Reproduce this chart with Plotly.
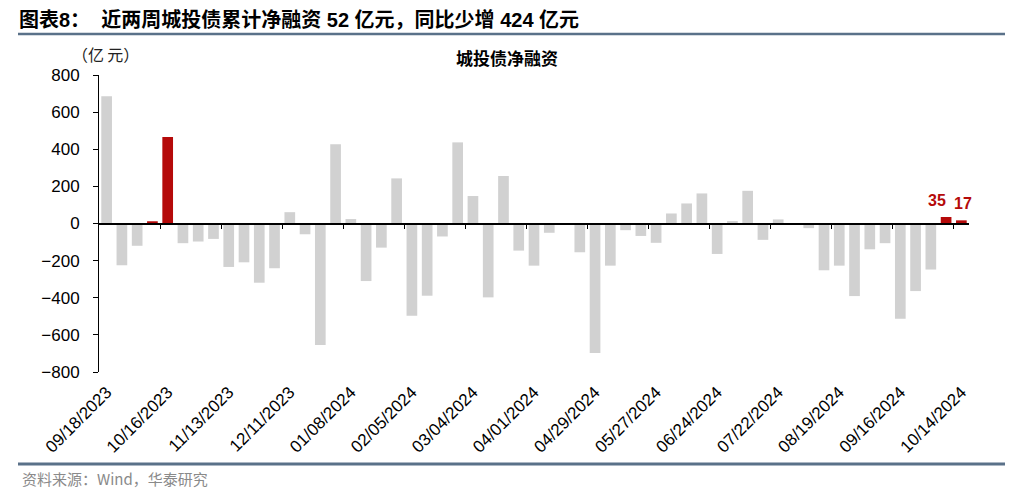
import pandas as pd
import plotly.graph_objects as go

# ---------------- data ----------------
weeks = [d.strftime("%m/%d/%Y") for d in pd.date_range("2023-09-18", "2024-10-14", freq="7D")]

net_financing = [
    685, -225, -120, 12, 466, -106, -97, -83, -234, -209,
    -319, -241, 61, -58, -655, 427, 24, -310, -130, 243,
    -497, -389, -70, 437, 148, -398, 256, -146, -227, -50,
    0, -155, -698, -227, -36, -67, -104, 54, 108, 162,
    -164, 13, 176, -88, 22, 0, -25, -252, -227, -391,
    -139, -106, -513, -364, -248, 35, 17,
]

highlight_weeks = ["10/09/2023", "10/16/2023", "10/07/2024", "10/14/2024"]
labeled_weeks = ["10/07/2024", "10/14/2024"]

tick_labels = [
    "09/18/2023", "10/16/2023", "11/13/2023", "12/11/2023", "01/08/2024",
    "02/05/2024", "03/04/2024", "04/01/2024", "04/29/2024", "05/27/2024",
    "06/24/2024", "07/22/2024", "08/19/2024", "09/16/2024", "10/14/2024",
]

title_text = "图表8：\u00a0\u00a0近两周城投债累计净融资 52 亿元，同比少增 424 亿元"
chart_title = "城投债净融资"
unit_text = "（亿\u2009元）"
source_text = "资料来源：Wind，华泰研究"

# ---------------- styles ----------------
GRAY = "#D1D1D1"
RED = "#B50A0A"
RULE = "#5A7189"
LATIN = "Arial, 'Liberation Sans', 'Noto Sans CJK SC', sans-serif"
CJK = "'Noto Sans CJK SC', sans-serif"

OFF = 8  # page body margin
W, H = 1019 - OFF, 493 - OFF
L, T = 99 - OFF, 75 - OFF
R = W - (969 - OFF)
B = H - (372 - OFF)
pw, ph = W - L - R, H - T - B


def px_x(x):
    return (x - OFF - L) / pw


def px_y(y):
    return (H - B - (y - OFF)) / ph


idx = list(range(len(weeks)))
colors = [RED if w in highlight_weeks else GRAY for w in weeks]
tickvals = [weeks.index(t) for t in tick_labels]
boundary_vals = [v - 0.5 for v in tickvals[1:]]

fig = go.Figure()
fig.add_trace(go.Bar(
    x=idx, y=net_financing, marker=dict(color=colors, line=dict(width=0)),
    hoverinfo="skip", showlegend=False,
))
# invisible trace for the zero-line axis
fig.add_trace(go.Scatter(x=[0], y=[0], xaxis="x2", mode="markers",
                         marker=dict(opacity=0), showlegend=False, hoverinfo="skip"))

annotations = []
for k, w in enumerate(labeled_weeks):
    i = weeks.index(w)
    annotations.append(dict(
        x=i, y=net_financing[i], xref="x", yref="y", text=str(net_financing[i]),
        showarrow=False, xanchor="center", yanchor="bottom", yshift=6,
        xshift=-9 if k == 0 else 2,
        font=dict(family=LATIN, size=16, color=RED, weight="bold"),
    ))

annotations += [
    dict(text=title_text, xref="paper", yref="paper", x=px_x(17), y=px_y(20),
         xanchor="left", yanchor="middle", showarrow=False,
         font=dict(family=LATIN, size=20, color="black", weight="bold")),
    dict(text=chart_title, xref="paper", yref="paper", x=px_x(507), y=px_y(58),
         xanchor="center", yanchor="middle", showarrow=False,
         font=dict(family=CJK, size=17, color="black", weight="bold")),
    dict(text=unit_text, xref="paper", yref="paper", x=px_x(70), y=px_y(54),
         xanchor="left", yanchor="middle", showarrow=False,
         font=dict(family=CJK, size=16, color="#222222")),
    dict(text=source_text, xref="paper", yref="paper", x=px_x(20), y=px_y(478),
         xanchor="left", yanchor="middle", showarrow=False,
         font=dict(family=CJK, size=15, color="#8A8A8A")),
]

fig.update_layout(
    width=W, height=H,
    margin=dict(l=L, r=R, t=T, b=B),
    paper_bgcolor="white", plot_bgcolor="white",
    bargap=0.3,
    xaxis=dict(
        range=[-0.5, len(weeks) - 0.5], tickmode="array", tickvals=tickvals,
        ticktext=tick_labels, tickangle=-45, showline=False, ticks="",
        showgrid=False, zeroline=False, automargin=False,
        tickfont=dict(family=LATIN, size=17, color="black"),
        ticklabelstandoff=6,
    ),
    xaxis2=dict(
        overlaying="x", anchor="free", position=0.5, side="bottom",
        range=[-0.5, len(weeks) - 0.5], tickmode="array", tickvals=boundary_vals,
        showticklabels=False, ticks="outside", ticklen=5, tickcolor="black",
        showline=True, linecolor="black", linewidth=1.5, showgrid=False, zeroline=False,
    ),
    yaxis=dict(
        range=[-800, 800], tickmode="linear", tick0=-800, dtick=200,
        showline=True, linecolor="black", linewidth=1, ticks="outside", ticklen=5,
        tickcolor="black", showgrid=False, zeroline=False, automargin=False,
        tickfont=dict(family=LATIN, size=17, color="black"),
        ticklabelstandoff=10,
    ),
    annotations=annotations,
    shapes=[
        dict(type="line", xref="paper", yref="paper", x0=px_x(18), x1=px_x(1005),
             y0=px_y(34), y1=px_y(34), line=dict(color=RULE, width=2.5)),
        dict(type="line", xref="paper", yref="paper", x0=px_x(18), x1=px_x(1005),
             y0=px_y(464), y1=px_y(464), line=dict(color=RULE, width=3)),
    ],
)

fig.write_html("out.html")
